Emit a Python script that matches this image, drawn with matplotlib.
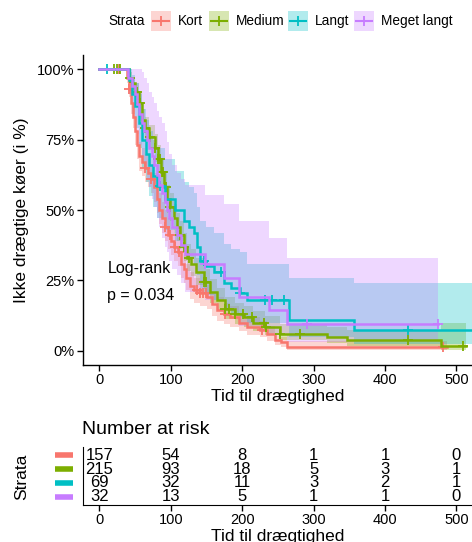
import numpy as np
import matplotlib
matplotlib.use("Agg")
import matplotlib.pyplot as plt
from matplotlib.lines import Line2D
from matplotlib.patches import Rectangle
from matplotlib.transforms import blended_transform_factory

plt.rcParams['font.family'] = ['Liberation Sans', 'DejaVu Sans']

# ---------------- data ----------------
strata = ["Kort", "Medium", "Langt", "Meget langt"]
colors = ["#F8766D", "#7CAE00", "#00BFC4", "#C77CFF"]

kort_t = [0, 36, 38, 41, 44, 47, 50, 53, 56, 60, 64, 68, 72, 76, 80, 84, 88, 92, 96, 100,
          105, 110, 114, 118, 122, 127, 133, 141, 151, 158, 165, 174, 183, 195, 207, 225, 235, 246, 255, 263]
kort_s = [1.0, 1.0, 0.97, 0.93, 0.88, 0.83, 0.78, 0.73, 0.69, 0.67, 0.65, 0.63, 0.61, 0.58, 0.54, 0.50, 0.47, 0.44, 0.41, 0.39,
          0.37, 0.35, 0.31, 0.29, 0.26, 0.23, 0.215, 0.205, 0.19, 0.165, 0.145, 0.13, 0.12, 0.10, 0.085, 0.075, 0.06, 0.04, 0.03, 0.014]
kort_lo = [1.0, 1.0, 0.95, 0.90, 0.84, 0.79, 0.73, 0.68, 0.64, 0.62, 0.60, 0.58, 0.56, 0.53, 0.49, 0.45, 0.42, 0.39, 0.36, 0.34,
           0.32, 0.30, 0.26, 0.24, 0.215, 0.185, 0.17, 0.16, 0.15, 0.125, 0.105, 0.095, 0.085, 0.07, 0.055, 0.048, 0.036, 0.02, 0.013, 0.003]
kort_hi = [1.0, 1.0, 0.99, 0.96, 0.92, 0.87, 0.83, 0.78, 0.74, 0.72, 0.70, 0.68, 0.66, 0.63, 0.60, 0.56, 0.53, 0.50, 0.47, 0.44,
           0.42, 0.40, 0.36, 0.34, 0.31, 0.28, 0.26, 0.25, 0.235, 0.21, 0.19, 0.17, 0.16, 0.135, 0.12, 0.105, 0.09, 0.065, 0.05, 0.035]
kort_end = 487
kort_cens = [27, 41, 64, 72, 92, 99, 106, 111, 137, 141, 145, 149, 176, 228, 482]

medium_t = [0, 38, 42, 45, 50, 55, 60, 64, 70, 78, 82, 86, 90, 95, 99, 104, 108, 113, 118, 123,
            128, 135, 146, 155, 165, 176, 190, 202, 215, 232, 253, 319, 347, 478]
medium_s = [1.0, 1.0, 0.97, 0.95, 0.92, 0.88, 0.82, 0.79, 0.76, 0.72, 0.68, 0.635, 0.58, 0.54, 0.51, 0.47, 0.44, 0.41, 0.37, 0.33,
            0.31, 0.28, 0.245, 0.21, 0.18, 0.15, 0.13, 0.12, 0.10, 0.085, 0.06, 0.05, 0.04, 0.016]
medium_lo = [1.0, 1.0, 0.95, 0.93, 0.89, 0.84, 0.78, 0.75, 0.72, 0.67, 0.63, 0.585, 0.53, 0.49, 0.46, 0.42, 0.39, 0.36, 0.32, 0.285,
             0.265, 0.235, 0.205, 0.17, 0.145, 0.115, 0.095, 0.085, 0.07, 0.057, 0.037, 0.028, 0.017, 0.005]
medium_hi = [1.0, 1.0, 0.99, 0.97, 0.95, 0.92, 0.86, 0.83, 0.80, 0.77, 0.73, 0.685, 0.63, 0.59, 0.56, 0.52, 0.49, 0.46, 0.42, 0.38,
             0.36, 0.33, 0.29, 0.255, 0.225, 0.19, 0.17, 0.16, 0.14, 0.125, 0.095, 0.085, 0.075, 0.10]
medium_end = 513
medium_cens = [20, 24, 29, 43, 53, 57, 64, 71, 78, 82, 85, 87, 89, 93, 99, 113, 118, 125, 146, 150,
               176, 181, 190, 201, 214, 230, 233, 253, 281, 433, 510]

langt_t = [0, 38, 42, 46, 50, 55, 60, 65, 70, 75, 80, 92, 106, 118, 125, 132, 137, 141, 150, 160,
           174, 185, 197, 207, 265, 356]
langt_s = [1.0, 1.0, 0.96, 0.91, 0.87, 0.81, 0.75, 0.70, 0.66, 0.62, 0.585, 0.54, 0.50, 0.46, 0.44, 0.42, 0.37, 0.32, 0.30, 0.28,
           0.24, 0.225, 0.205, 0.18, 0.11, 0.074]
langt_lo = [1.0, 1.0, 0.91, 0.84, 0.79, 0.72, 0.65, 0.60, 0.55, 0.51, 0.47, 0.43, 0.39, 0.35, 0.33, 0.31, 0.27, 0.22, 0.20, 0.18,
            0.15, 0.135, 0.12, 0.10, 0.05, 0.023]
langt_hi = [1.0, 1.0, 1.0, 0.98, 0.95, 0.91, 0.86, 0.82, 0.78, 0.75, 0.72, 0.68, 0.64, 0.60, 0.58, 0.56, 0.51, 0.46, 0.44, 0.42,
            0.38, 0.36, 0.35, 0.31, 0.26, 0.24]
langt_end = 522
langt_cens = [11, 85, 147, 171, 197, 232, 242, 258, 432]

meget_t = [0, 40, 45, 50, 53, 56, 60, 63, 66, 70, 73, 76, 80, 84, 88, 92, 95, 98, 102, 108,
           114, 120, 148, 175, 195, 237, 263]
meget_s = [1.0, 0.97, 0.94, 0.91, 0.875, 0.84, 0.81, 0.78, 0.75, 0.72, 0.69, 0.66, 0.625, 0.59, 0.56, 0.53, 0.50, 0.47, 0.44, 0.41,
           0.375, 0.344, 0.31, 0.26, 0.19, 0.145, 0.096]
meget_lo = [1.0, 0.91, 0.86, 0.82, 0.77, 0.73, 0.69, 0.65, 0.61, 0.58, 0.54, 0.51, 0.47, 0.44, 0.40, 0.37, 0.35, 0.32, 0.29, 0.27,
            0.24, 0.21, 0.18, 0.14, 0.09, 0.06, 0.03]
meget_hi = [1.0, 1.0, 1.0, 1.0, 1.0, 1.0, 0.99, 0.97, 0.95, 0.92, 0.90, 0.88, 0.85, 0.83, 0.81, 0.78, 0.74, 0.70, 0.66, 0.63,
            0.61, 0.59, 0.555, 0.52, 0.46, 0.40, 0.33]
meget_end = 475
meget_cens = [148, 291, 475]

risk_times = [0, 100, 200, 300, 400, 500]
risk_kort = [157, 54, 8, 1, 1, 0]
risk_medium = [215, 93, 18, 5, 3, 1]
risk_langt = [69, 32, 11, 3, 2, 1]
risk_meget = [32, 13, 5, 1, 1, 0]

x_ticks = [0, 100, 200, 300, 400, 500]
y_ticks = [0, 0.25, 0.5, 0.75, 1.0]
y_ticklabels = ["0%", "25%", "50%", "75%", "100%"]
pval_text = "Log-rank\n\np = 0.034"

series = [
    (kort_t, kort_s, kort_lo, kort_hi, kort_end, kort_cens),
    (medium_t, medium_s, medium_lo, medium_hi, medium_end, medium_cens),
    (langt_t, langt_s, langt_lo, langt_hi, langt_end, langt_cens),
    (meget_t, meget_s, meget_lo, meget_hi, meget_end, meget_cens),
]
risk = [risk_kort, risk_medium, risk_langt, risk_meget]

# ---------------- figure ----------------
W, H = 472, 542
fig = plt.figure(figsize=(W / 100, H / 100), dpi=100)

def fx(px):
    return px / W

def fy(py):
    return 1 - py / H

ax = fig.add_axes([fx(83), fy(365), fx(472) - fx(83), fy(55) - fy(365)])
xlim = (-23, 522)
ax.set_xlim(*xlim)
ax.set_ylim(-0.05, 1.05)

lw = 1.8
# ribbons
for (t, s, lo, hi, end, cens), c in zip(series, colors):
    tt = list(t) + [end]
    ax.fill_between(tt, list(lo) + [lo[-1]], list(hi) + [hi[-1]], step='post',
                    color=c, alpha=0.3, linewidth=0)
# lines + censor marks
for (t, s, lo, hi, end, cens), c in zip(series, colors):
    tt = list(t) + [end]
    ss = list(s) + [s[-1]]
    ax.step(tt, ss, where='post', color=c, lw=lw, solid_joinstyle='miter')
    idx = np.searchsorted(np.array(t), np.array(cens), side='right') - 1
    cy = np.array(s)[idx]
    ax.plot(cens, cy, linestyle='none', marker='+', color=c, markersize=7, markeredgewidth=1.3)

ax.text(11, 0.245, pval_text, fontsize=11.5, va='center', ha='left', linespacing=0.9)

for sp in ['top', 'right']:
    ax.spines[sp].set_visible(False)
for sp in ['left', 'bottom']:
    ax.spines[sp].set_linewidth(1.0)
ax.set_xticks(x_ticks)
ax.set_yticks(y_ticks)
ax.set_yticklabels(y_ticklabels)
ax.tick_params(axis='both', labelsize=10.5, length=4, width=1.0, colors='black', pad=2)
ax.set_xlabel("Tid til drægtighed", fontsize=12.5, labelpad=1)
ax.set_ylabel("Ikke drægtige køer (i %)", fontsize=12.5, labelpad=6)

# ---------------- legend (top) ----------------
ly = 21
fig.text(fx(145), fy(ly), "Strata", fontsize=9.8, ha='right', va='center')
key_x = [151, 209, 288, 354]
for kx, c, name in zip(key_x, colors, strata):
    fig.add_artist(Rectangle((fx(kx), fy(31)), fx(20), fy(11) - fy(31),
                             transform=fig.transFigure, facecolor=c, alpha=0.3, edgecolor='none'))
    fig.add_artist(Line2D([fx(kx + 2), fx(kx + 18)], [fy(ly), fy(ly)], transform=fig.transFigure,
                          color=c, lw=1.5))
    fig.add_artist(Line2D([fx(kx + 10)], [fy(ly)], transform=fig.transFigure, color=c,
                          marker='+', markersize=7, markeredgewidth=1.3, linestyle='none'))
    fig.text(fx(kx + 27), fy(ly), name, fontsize=9.8, ha='left', va='center')

# ---------------- risk table ----------------
tax = fig.add_axes([fx(83), fy(505), fx(472) - fx(83), fy(447) - fy(505)])
tax.set_xlim(*xlim)
tax.set_ylim(0.4, 4.6)
for i, row in enumerate(risk):
    yrow = 4 - i
    for tm, n in zip(risk_times, row):
        tax.text(tm, yrow, str(n), ha='center', va='center', fontsize=12)
for sp in ['top', 'right']:
    tax.spines[sp].set_visible(False)
tax.set_yticks([])
tax.set_xticks(x_ticks)
tax.tick_params(axis='x', labelsize=10.5, length=4, width=1.0, colors='black', pad=2)
tax.set_xlabel("Tid til drægtighed", fontsize=12.5, labelpad=1)

bt = blended_transform_factory(fig.transFigure, tax.transData)
for i, c in enumerate(colors):
    fig.add_artist(Line2D([fx(55), fx(73)], [4 - i, 4 - i], transform=bt, color=c, lw=4,
                          solid_capstyle='butt'))
fig.text(fx(22), fy(477), "Strata", rotation=90, fontsize=12.5, ha='center', va='center')
fig.text(fx(82), fy(429), "Number at risk", fontsize=14, ha='left', va='center')

fig.savefig("out.png", dpi=100)
